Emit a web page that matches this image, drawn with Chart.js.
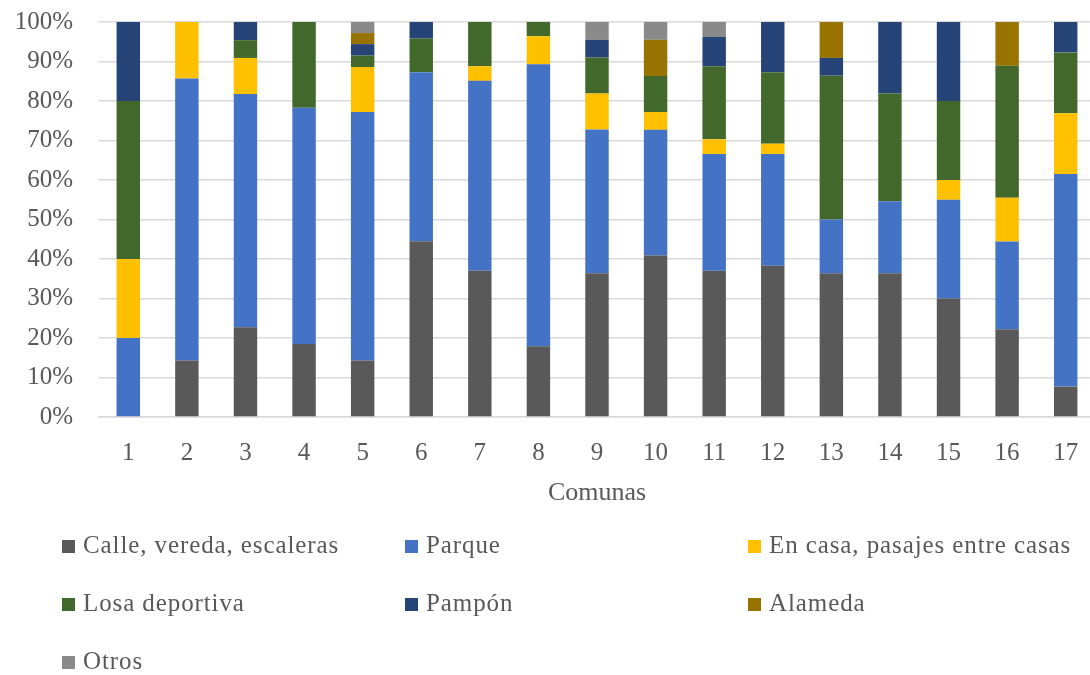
<!DOCTYPE html>
<html>
  <head>
    <script src="https://cdn.jsdelivr.net/npm/chart.js"></script>
    <title>Comunas</title>
    <style>
      body {
        margin: 0;
        overflow: hidden;
        background: #ffffff;
      }
      #contenedor {
        position: relative;
        width: 1100px;
        height: 675px;
      }
      #leyenda {
        position: absolute;
        left: 0;
        top: 0;
        font-family: "Liberation Serif", serif;
        font-size: 25px;
        letter-spacing: 0.9px;
        color: #595959;
      }
      .item {
        position: absolute;
        white-space: nowrap;
        line-height: 28px;
      }
      .caja {
        display: inline-block;
        width: 13px;
        height: 13px;
        margin-right: 8px;
        vertical-align: 0px;
      }
    </style>
  </head>

  <body>
    <div id="contenedor">
      <canvas id="grafico" width="1100" height="675"></canvas>
      <div id="leyenda"></div>
    </div>

    <script>
      // datos (porcentaje por comuna)
      const comunas = ["1", "2", "3", "4", "5", "6", "7", "8", "9", "10", "11", "12", "13", "14", "15", "16", "17"];
      const calle = [0, 14.3, 22.7, 18.5, 14.3, 44.5, 37.0, 17.9, 36.4, 40.9, 37.0, 38.3, 36.4, 36.4, 30.0, 22.2, 7.7];
      const parque = [20, 71.4, 59.1, 59.8, 62.9, 42.8, 48.1, 71.4, 36.4, 31.8, 29.6, 28.3, 13.6, 18.2, 25.0, 22.2, 53.8];
      const enCasa = [20, 14.3, 9.1, 0, 11.4, 0, 3.7, 7.1, 9.1, 4.5, 3.7, 2.6, 0, 0, 5.0, 11.1, 15.4];
      const losa = [40, 0, 4.5, 21.7, 2.9, 8.5, 11.2, 3.6, 9.1, 9.1, 18.5, 18.1, 36.4, 27.3, 20.0, 33.4, 15.4];
      const pampon = [20, 0, 4.6, 0, 2.9, 4.2, 0, 0, 4.5, 0, 7.4, 12.7, 4.5, 18.1, 20.0, 0, 7.7];
      const alameda = [0, 0, 0, 0, 2.8, 0, 0, 0, 0, 9.2, 0, 0, 9.1, 0, 0, 11.1, 0];
      const otros = [0, 0, 0, 0, 2.8, 0, 0, 0, 4.5, 4.5, 3.8, 0, 0, 0, 0, 0, 0];

      const series = [
        { label: "Calle, vereda, escaleras", data: calle, color: "#595959" },
        { label: "Parque", data: parque, color: "#4472c4" },
        { label: "En casa, pasajes entre casas", data: enCasa, color: "#ffc000" },
        { label: "Losa deportiva", data: losa, color: "#43682b" },
        { label: "Pampón", data: pampon, color: "#264478" },
        { label: "Alameda", data: alameda, color: "#997300" },
        { label: "Otros", data: otros, color: "#8a8a8a" },
      ];

      const FUENTE = "'Liberation Serif', serif";
      const GRIS_TEXTO = "#595959";

      const ctx = document.getElementById("grafico").getContext("2d");

      const grafico = new Chart(ctx, {
        type: "bar",
        data: {
          labels: comunas,
          datasets: series.map((s) => ({
            label: s.label,
            data: s.data,
            backgroundColor: s.color,
            borderWidth: 0,
            barPercentage: 0.4,
            categoryPercentage: 1,
          })),
        },
        options: {
          responsive: false,
          animation: false,
          layout: {
            padding: { left: 0, right: 5, top: 22, bottom: 148 },
          },
          plugins: {
            legend: { display: false },
            tooltip: { enabled: false },
          },
          scales: {
            x: {
              stacked: true,
              grid: { display: false, drawTicks: false },
              border: { display: true, color: "#d9d9d9", width: 1.5 },
              ticks: {
                color: GRIS_TEXTO,
                font: { family: FUENTE, size: 25 },
                padding: 21,
              },
              title: {
                display: true,
                text: "Comunas",
                color: GRIS_TEXTO,
                font: { family: FUENTE, size: 26 },
                padding: { top: 0, bottom: 18 },
              },
              afterFit: (scale) => {
                scale.height = 110;
                scale.paddingLeft = 0;
                scale.paddingRight = 0;
              },
            },
            y: {
              stacked: true,
              min: 0,
              max: 100,
              grid: { color: "#d9d9d9", lineWidth: 1.5, drawTicks: false },
              border: { display: false },
              ticks: {
                stepSize: 10,
                color: GRIS_TEXTO,
                font: { family: FUENTE, size: 25 },
                padding: 26,
                callback: (v) => v + "%",
              },
              afterFit: (scale) => {
                // ancho fijo del eje y sin relleno extra arriba/abajo
                scale.width = 99;
                scale.paddingTop = 0;
                scale.paddingBottom = 0;
              },
            },
          },
        },
      });

      // leyenda en tres columnas, como en el original
      const leyenda = document.getElementById("leyenda");
      const columnas = [62, 405, 748];
      const filas = [545, 603, 661];
      series.forEach((s, i) => {
        const item = document.createElement("div");
        item.className = "item";
        item.style.left = columnas[i % 3] + "px";
        item.style.top = filas[Math.floor(i / 3)] - 14 + "px";
        item.innerHTML = '<span class="caja" style="background:' + s.color + '"></span>' + s.label;
        leyenda.appendChild(item);
      });
    </script>
  </body>
</html>
